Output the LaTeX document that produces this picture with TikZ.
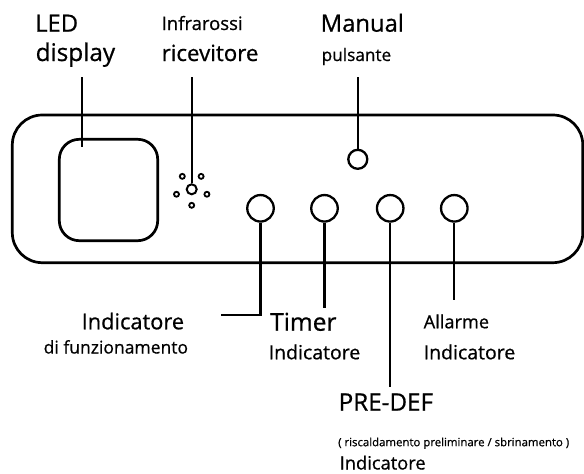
\documentclass[tikz,border=0pt]{standalone}
\usepackage{fontspec}
\setmainfont{Open Sans}[FakeBold=0.7]
\usetikzlibrary{calc}
\newcommand{\fs}[1]{\fontsize{#1}{#1}\selectfont}
\begin{document}
\begin{tikzpicture}[x=1pt,y=-1pt,
  lbl/.style={anchor=base west,inner sep=0pt,text=black},
  panel/.style={draw,line width=2.7pt,rounded corners=30pt},
  screen/.style={draw,line width=2.7pt,rounded corners=20pt},
  knob/.style={circle,draw,line width=2.3pt,inner sep=0pt,minimum size=#1},
  irdot/.style={circle,draw,line width=1.8pt,inner sep=0pt,minimum size=5pt},
  lead/.style={line width=2.1pt}]
\useasboundingbox (0,0) rectangle (584,474);

% control panel body and LED window
\draw[panel] (12.3,115) rectangle (582.8,262.7);
\draw[screen] (59.3,139.3) rectangle (157.7,240.7);

% infrared receiver: centre eye with five dots around it
\node[knob=10pt,line width=2pt] (ir) at (191.7,189.3) {};
\foreach \a [count=\i] in {-90,-18,54,126,198}
  \node[irdot] (ird\i) at ($(ir)+(\a:16pt)$) {};

% manual push button
\node[knob=19pt] (man) at (357.8,159.3) {};

% indicator lamps
\node[knob=26.5pt] (run) at (260.5,208.3) {};
\node[knob=26.5pt] (tim) at (324.5,208.3) {};
\node[knob=26.5pt] (pre) at (390.2,208.3) {};
\node[knob=26.5pt] (alm) at (454.3,208.3) {};

% labels
\node[lbl,font=\fs{23.8}] (tled) at (35,31.7) {LED};
\node[lbl,font=\fs{24.3}] (tdisp) at (35.5,61) {display};
\node[lbl,font=\fs{18.5}] (tinf) at (161.5,30) {Infrarossi};
\node[lbl,font=\fs{22.3}] (tric) at (161.5,61) {ricevitore};
\node[lbl,font=\fs{23.8}] (tman) at (320.5,31.7) {Manual};
\node[lbl,font=\fs{17.2}] (tpul) at (321.5,61) {pulsante};

\node[lbl,font=\fs{21.8}] (trun) at (81.5,329.3) {Indicatore};
\node[lbl,font=\fs{17.5}] (trun2) at (43.5,353.5) {di funzionamento};
\node[lbl,font=\fs{24.5}] (ttim) at (270,330.7) {Timer};
\node[lbl,font=\fs{19.5}] (ttim2) at (268.5,359.3) {Indicatore};
\node[lbl,font=\fs{18.2}] (talm) at (423.5,328.3) {Allarme};
\node[lbl,font=\fs{19.5}] (talm2) at (423.5,359.3) {Indicatore};
\node[lbl,font=\fs{24.2}] (tpre) at (338.5,410.7) {PRE-DEF};
\node[lbl,font=\fs{11.4}] (tpre2) at (338,446.2) {( riscaldamento preliminare / sbrinamento )};
\node[lbl,font=\fs{18.3}] (tpre3) at (339.5,469.5) {Indicatore};

% leader lines
\coordinate (cled) at (81.7,77);
\coordinate (cledend) at (81.7,147);
\coordinate (cir) at (191.7,77);
\coordinate (cman) at (357.8,77);
\coordinate (crun) at (260.5,315);
\coordinate (crunend) at (220.5,315);
\coordinate (ctim) at (324.5,308.3);
\coordinate (cpre) at (390.2,386.7);
\coordinate (calm) at (454.3,300);

\draw[lead] (cled) -- (cledend);
\draw[lead] (cir) -- (ir.north);
\draw[lead] (cman) -- (man.north);
\draw[lead] (run.south) -- (crun) -- (crunend);
\draw[lead] (tim.south) -- (ctim);
\draw[lead] (pre.south) -- (cpre);
\draw[lead] (alm.south) -- (calm);
\end{tikzpicture}
\end{document}
